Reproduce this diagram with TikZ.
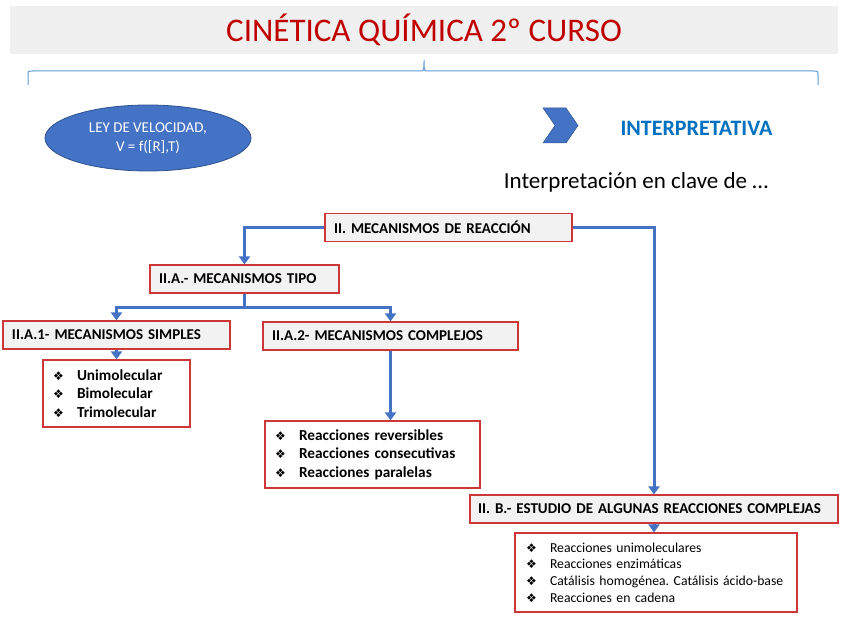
\documentclass[tikz,border=0pt]{standalone}
\usepackage{fontspec}
\setmainfont{Carlito}
\newfontfamily\dingfont{DejaVu Sans}
\usetikzlibrary{positioning,calc}
\usetikzlibrary{arrows.meta,shapes.geometric}
\definecolor{TitleRed}{RGB}{192,0,0}
\definecolor{TitleGray}{RGB}{240,240,240}
\definecolor{LinkBlue}{RGB}{68,114,196}
\definecolor{EdgeBlue}{RGB}{47,82,143}
\definecolor{BraceBlue}{RGB}{91,155,213}
\definecolor{HeadBlue}{RGB}{0,112,192}
\definecolor{BoxRed}{RGB}{205,55,55}
\definecolor{BoxGray}{RGB}{242,242,242}
\frenchspacing
\newcommand{\bulitem}[1]{\makebox[24pt][l]{\dingfont\fontsize{12}{12}\selectfont ❖}#1}
\tikzset{
  hdr/.style={draw=BoxRed,fill=BoxGray,line width=1.2pt,inner xsep=9pt,minimum height=28pt,
    text width=#1,align=left,font=\bfseries\fontsize{15}{17}\selectfont},
  lst/.style={draw=BoxRed,fill=white,line width=1.2pt,inner xsep=10pt,
    text width=#1,align=left},
  link/.style={draw=LinkBlue,line width=3pt,-{Triangle[width=11pt,length=8pt]}},
}
\begin{document}
\begin{tikzpicture}[x=1pt,y=-1pt]
\useasboundingbox (0,0) rectangle (848,636);
% title and brace
\node[fill=TitleGray,minimum width=828pt,minimum height=48pt,text=TitleRed,
  font=\fontsize{33}{38}\selectfont] (title) at (424,30) {CINÉTICA QUÍMICA 2º CURSO};
\coordinate (braceL) at (28,85);
\coordinate (braceR) at (818,85);
\draw[BraceBlue,line width=1pt] (braceL) -- (28,76) .. controls (28,71) .. (33,71) -- (420,71)
  .. controls (424,71) .. (424,60) .. controls (424,71) .. (428,71) -- (813,71)
  .. controls (818,71) .. (818,76) -- (braceR);
% top row
\node[ellipse,fill=LinkBlue,draw=EdgeBlue,line width=0.8pt,minimum width=206pt,minimum height=66pt,
  text=white,align=center,font=\fontsize{15}{19}\selectfont] (ley) at (148,138)
  {LEY DE VELOCIDAD,\\ V = f([R],T)};
\fill[LinkBlue,draw=EdgeBlue,line width=0.5pt] (543,108) -- (566,108) -- (578,125.5) -- (566,143)
  -- (543,143) -- (555,125.5) -- cycle;
\node[text=HeadBlue,font=\bfseries\fontsize{22}{26}\selectfont] (interp) at (696.5,128) {INTERPRETATIVA};
\node[font=\fontsize{23}{27}\selectfont] (clave) at (636,182) {Interpretación en clave de …};
% boxes
\node[hdr=229pt] (mec) at (448.5,227.5) {II. MECANISMOS DE REACCIÓN};
\node[hdr=171pt] (tipo) at (244.5,279) {II.A.- MECANISMOS TIPO};
\node[hdr=209pt] (simples) at (116.5,335) {II.A.1- MECANISMOS SIMPLES};
\node[hdr=237pt] (complejos) at (390.5,336) {II.A.2- MECANISMOS COMPLEJOS};
\node[hdr=352pt,inner xsep=8pt] (estudio) at (654,509) {II. B.- ESTUDIO DE ALGUNAS REACCIONES COMPLEJAS};
\node[lst=127pt,minimum height=67pt,font=\bfseries\fontsize{15.3}{18.5}\selectfont] (uni) at (116.5,393.5)
  {\bulitem{Unimolecular}\\ \bulitem{Bimolecular}\\ \bulitem{Trimolecular}};
\node[lst=195pt,minimum height=67pt,font=\bfseries\fontsize{15.3}{18.5}\selectfont] (rev) at (372.5,454.5)
  {\bulitem{Reacciones reversibles}\\ \bulitem{Reacciones consecutivas}\\ \bulitem{Reacciones paralelas}};
\node[lst=260pt,inner xsep=11pt,minimum height=79pt,font=\fontsize{13.7}{16.7}\selectfont] (enz) at (656,572.5)
  {\bulitem{Reacciones unimoleculares}\\ \bulitem{Reacciones enzimáticas}\\
   \bulitem{Catálisis homogénea. Catálisis ácido-base}\\ \bulitem{Reacciones en cadena}};
% connectors
\coordinate (split) at (244.5,307);
\draw[link] (mec.west) -| (tipo.north);
\draw[link] (mec.east) -| (estudio.north);
\draw[link] (tipo.south) -- (split) -| (simples.north);
\draw[link] (split) -| (complejos.north);
\draw[link] (simples.south) -- (uni.north);
\draw[link] (complejos.south) -- (complejos.south |- rev.north);
\draw[link] (estudio.south) -- (estudio.south |- enz.north);
\end{tikzpicture}
\end{document}
